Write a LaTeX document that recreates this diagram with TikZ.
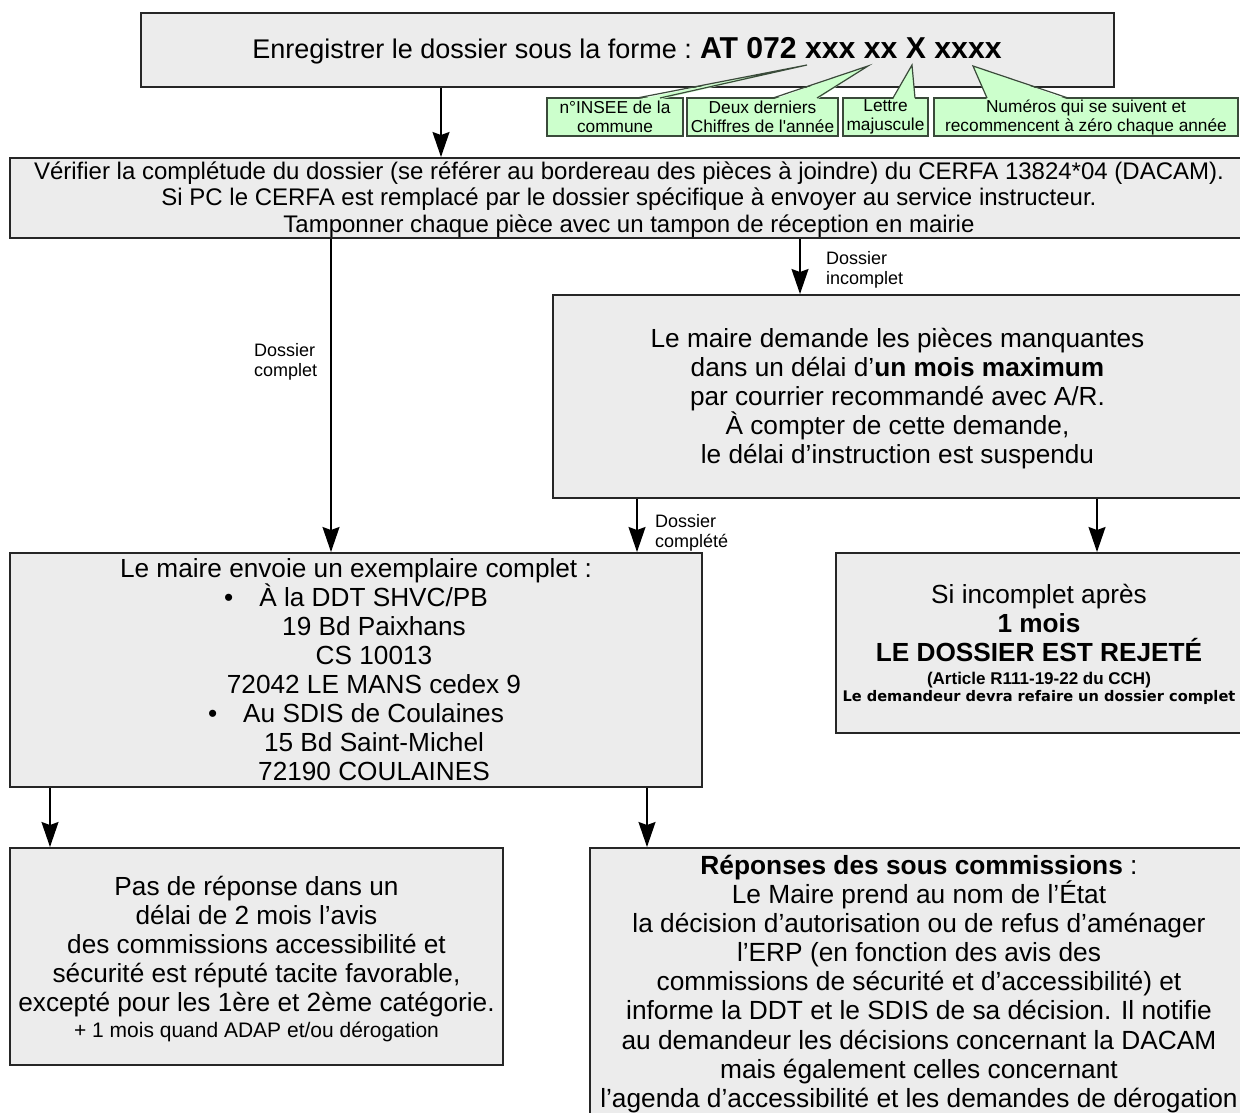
\documentclass[tikz,border=0pt]{standalone}
\usepackage{fontspec}
\setmainfont{Liberation Sans}
\newfontfamily\djvfont{DejaVu Sans}
\usetikzlibrary{arrows.meta}
\definecolor{boxgray}{HTML}{ECECEC}
\definecolor{boxline}{HTML}{262626}
\definecolor{callgreen}{HTML}{CCFFCC}
\definecolor{callline}{HTML}{3A4A3A}
\begin{document}
\begin{tikzpicture}[x=1pt,y=-1pt,
  box/.style={draw=boxline, line width=2pt, fill=boxgray, inner sep=0pt, align=center,
    font=\fontsize{26.2}{29}\selectfont},
  boxtext/.style={inner sep=0pt, align=center, font=\fontsize{26.2}{29}\selectfont},
  callbox/.style={draw=callline, line width=1.2pt, fill=callgreen, inner sep=0pt, align=center,
    font=\fontsize{17.3}{19}\selectfont},
  wedgeline/.style={draw=callline, line width=1.2pt, line join=miter},
  arr/.style={draw=black, line width=1.6pt, -{Stealth[length=25pt,width=17pt,inset=3pt]}},
  lbl/.style={inner sep=0pt, align=left, anchor=north west, font=\fontsize{18}{20.5}\selectfont}]
\useasboundingbox (0,0) rectangle (1240,1113);
\clip (0,0) rectangle (1240,1113);

% ---- top box and callouts
\node[box, minimum width=973, minimum height=74] (a) at (627,50) {};
\node[boxtext, font=\fontsize{27}{30}\selectfont] (at) at (627,51)
  {Enregistrer le dossier sous la forme :\hspace{8pt}{\bfseries\fontsize{30.2}{32}\selectfont AT 072 xxx xx X xxxx}};

\node[callbox, minimum width=136, minimum height=38] (c1) at (615,117) {n°INSEE de la\\commune};
\node[callbox, minimum width=151, minimum height=38] (c2) at (762.5,117) {Deux derniers\\Chiffres de l\textquotesingle année};
\node[callbox, minimum width=85, minimum height=38] (c3) at (885.5,117) {Lettre\\majuscule};
\node[callbox, minimum width=304, minimum height=38] (c4) at (1086,117) {Numéros qui se suivent et\\recommencent à zéro chaque année};

\fill[callgreen] (637,99.5) -- (807,65) -- (660,99.5) -- cycle;
\draw[wedgeline] (637,98) -- (807,65) -- (660,98);
\fill[callgreen] (773,99.5) -- (868,66) -- (817,99.5) -- cycle;
\draw[wedgeline] (773,98) -- (868,66) -- (817,98);
\fill[callgreen] (893,99.5) -- (912,65) -- (915,99.5) -- cycle;
\draw[wedgeline] (893,98) -- (912,65) -- (915,98);
\fill[callgreen] (987,99.5) -- (973,66) -- (1068,99.5) -- cycle;
\draw[wedgeline] (987,98) -- (973,66) -- (1068,98);

% ---- main boxes
\node[box, minimum width=1238, minimum height=80] (b) at (629,198) {};
\node[boxtext, font=\fontsize{24}{26.5}\selectfont] (bt) at (629,199.5)
  {Vérifier la complétude du dossier (se référer au bordereau des pièces à joindre) du CERFA 13824*04 (DACAM).\\
   Si PC le CERFA est remplacé par le dossier spécifique à envoyer au service instructeur.\\
   Tamponner chaque pièce avec un tampon de réception en mairie};

\node[box, minimum width=689, minimum height=203] (d) at (897.5,396.5) {};
\node[boxtext] (dt) at (897.5,398.5)
  {Le maire demande les pièces manquantes\\
   dans un délai d’\textbf{un mois maximum}\\
   par courrier recommandé avec A/R.\\
   À compter de cette demande,\\
   le délai d’instruction est suspendu};

\node[box, minimum width=692, minimum height=234] (c) at (356,670)
  {Le maire envoie un exemplaire complet :\\
   \textbullet\hspace*{26pt}À la DDT SHVC/PB\\
   \hspace*{36pt}19 Bd Paixhans\\
   \hspace*{36pt}CS 10013\\
   \hspace*{36pt}72042 LE MANS cedex 9\\
   \textbullet\hspace*{26pt}Au SDIS de Coulaines\\
   \hspace*{36pt}15 Bd Saint-Michel\\
   \hspace*{36pt}72190 COULAINES};

\node[box, minimum width=406, minimum height=180] (e) at (1039,643) {};
\node[boxtext] (et) at (1039,644.5)
  {Si incomplet après\\
   \textbf{1 mois}\\
   \textbf{LE DOSSIER EST REJETÉ}\\[-6pt]
   {\fontsize{17}{18}\selectfont\bfseries (Article R111-19-22 du CCH)}\\[-12pt]
   {\djvfont\fontsize{14.6}{16}\selectfont\bfseries Le demandeur devra refaire un dossier complet}};

\node[box, minimum width=493, minimum height=217] (f) at (256.5,956.5) {};
\node[boxtext] (ft) at (256.5,959)
  {Pas de réponse dans un\\
   délai de 2 mois l’avis\\
   des commissions accessibilité et\\
   sécurité est réputé tacite favorable,\\
   excepté pour les 1ère et 2ème catégorie.\\[-3pt]
   {\fontsize{21}{22}\selectfont + 1 mois quand ADAP et/ou dérogation}};

\node[box, minimum width=658, minimum height=292] (g) at (919,994) {};
\node[boxtext, anchor=north, font=\fontsize{26.3}{29.1}\selectfont] (gt) at (919,855)
  {\textbf{Réponses des sous commissions} :\\
   Le Maire prend au nom de l’État\\
   la décision d’autorisation ou de refus d’aménager\\
   l’ERP (en fonction des avis des\\
   commissions de sécurité et d’accessibilité) et\\
   informe la DDT et le SDIS de sa décision. Il notifie\\
   au demandeur les décisions concernant la DACAM\\
   mais également celles concernant\\
   l’agenda d’accessibilité et les demandes de dérogation};

% ---- connectors
\coordinate (xab) at (441,0);
\coordinate (xbc) at (331,0);
\coordinate (xbd) at (800,0);
\coordinate (xdc) at (637,0);
\coordinate (xde) at (1097,0);
\coordinate (xcf) at (50,0);
\coordinate (xcg) at (647,0);

\draw[arr] (a.south -| xab) -- (b.north -| xab);
\draw[arr] (b.south -| xbc) -- (c.north -| xbc);
\draw[arr] (b.south -| xbd) -- (d.north -| xbd);
\draw[arr] (d.south -| xdc) -- (c.north -| xdc);
\draw[arr] (d.south -| xde) -- (e.north -| xde);
\draw[arr] (c.south -| xcf) -- (f.north -| xcf);
\draw[arr] (c.south -| xcg) -- (g.north -| xcg);

\node[lbl] (l1) at (254,343) {Dossier\\complet};
\node[lbl] (l2) at (826,251) {Dossier\\incomplet};
\node[lbl] (l3) at (655,514) {Dossier\\complété};
\end{tikzpicture}
\end{document}
